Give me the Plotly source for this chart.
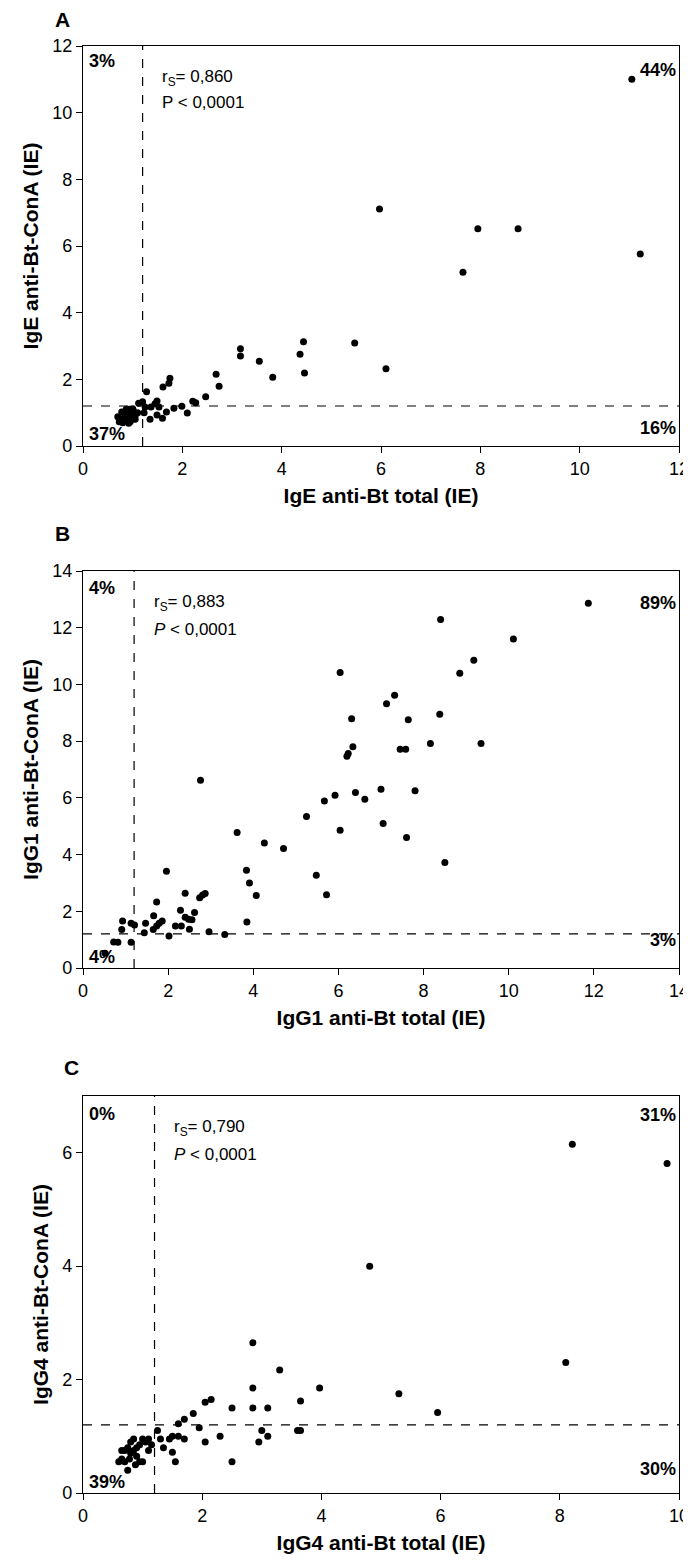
import plotly.graph_objects as go

# ---------------- Data ----------------
# Panel A: IgE
a_x = [11.05, 5.97, 7.95, 8.76, 11.22, 7.65, 6.10, 5.47,
       3.17, 3.17, 3.55, 3.82, 4.37, 4.44, 4.46, 2.68, 2.74, 2.47, 2.21, 2.27,
       1.99, 2.10, 1.83, 1.68, 1.60, 1.75, 1.73, 1.61, 1.49, 1.53, 1.49, 1.45,
       1.37, 1.28, 1.20, 1.25, 1.35, 1.23, 1.12,
       0.87, 0.94, 1.01, 0.84, 0.90, 0.97, 1.05, 0.77, 0.84, 0.90, 0.99, 0.73,
       0.80, 0.95, 1.05, 1.10, 0.88, 0.78, 1.00, 0.70, 0.92]
a_y = [11.00, 7.11, 6.52, 6.52, 5.76, 5.21, 2.32, 3.09,
       2.92, 2.70, 2.54, 2.06, 2.75, 3.13, 2.19, 2.15, 1.79, 1.48, 1.34, 1.30,
       1.19, 0.99, 1.13, 1.02, 0.83, 2.03, 1.88, 1.77, 0.93, 1.17, 1.35, 1.27,
       1.17, 1.63, 1.33, 1.17, 0.80, 1.00, 1.28,
       1.10, 1.10, 1.07, 0.95, 0.97, 0.93, 0.90, 0.80, 0.83, 0.77, 0.80, 0.73,
       0.70, 0.73, 0.80, 1.00, 0.90, 1.02, 1.12, 0.88, 0.68]

# Panel B: IgG1
b_x = [11.87, 8.40, 10.11, 9.18, 8.85, 6.04, 7.32, 7.13, 6.31, 7.64, 8.38,
       8.16, 9.35, 6.34, 6.23, 6.20, 7.45, 7.58,
       6.40, 5.92, 5.67, 5.25, 6.04, 4.71, 4.26, 3.62, 2.76, 3.84, 3.91, 5.48,
       1.96, 6.62, 7.00, 7.80, 7.05, 7.60, 8.50, 4.07, 5.72, 3.85,
       2.40, 2.74, 2.81, 2.87, 1.73, 2.29, 1.66, 2.62, 2.40, 2.48, 2.56,
       1.86, 1.79, 1.73, 1.65, 1.47, 1.44, 2.17, 2.31, 2.50, 2.96, 3.33, 2.02,
       0.93, 0.91, 1.13, 1.21, 0.82, 1.13, 0.52, 0.72]
b_y = [12.86, 12.29, 11.60, 10.85, 10.39, 10.42, 9.62, 9.32, 8.79, 8.75, 8.95,
       7.92, 7.92, 7.80, 7.56, 7.47, 7.71, 7.71,
       6.19, 6.09, 5.89, 5.34, 4.86, 4.21, 4.41, 4.78, 6.62, 3.45, 3.00, 3.27,
       3.41, 5.95, 6.30, 6.25, 5.10, 4.60, 3.72, 2.56, 2.58, 1.62,
       2.64, 2.48, 2.57, 2.63, 2.33, 2.04, 1.84, 1.96, 1.79, 1.72, 1.70,
       1.66, 1.58, 1.48, 1.36, 1.58, 1.24, 1.48, 1.48, 1.37, 1.28, 1.18, 1.13,
       1.66, 1.36, 1.58, 1.52, 0.91, 0.91, 0.52, 0.92]

# Panel C: IgG4
c_x = [8.21, 9.80, 4.81, 2.85, 8.10, 5.30, 5.95, 3.97, 3.65, 3.30, 2.85, 2.85,
       3.10, 2.50, 2.15, 2.05, 1.85, 1.70, 1.60,
       3.00, 2.95, 3.60, 3.65, 3.10, 2.50, 2.30, 2.05, 1.50, 1.50, 1.55, 1.70,
       1.45, 1.35, 1.30, 1.60, 1.25, 1.95,
       0.60, 0.65, 0.70, 0.75, 0.70, 0.75, 0.80, 0.80, 0.85, 0.90, 0.95, 0.95,
       1.00, 1.05, 1.10, 1.10, 0.85, 0.90, 1.00, 0.65, 0.78, 1.15, 0.88]
c_y = [6.15, 5.81, 4.00, 2.65, 2.30, 1.75, 1.42, 1.85, 1.62, 2.17, 1.85, 1.50,
       1.50, 1.50, 1.65, 1.60, 1.40, 1.30, 1.22,
       1.10, 0.90, 1.10, 1.10, 1.00, 0.55, 1.00, 0.90, 1.00, 0.72, 0.55, 0.95,
       0.95, 0.80, 0.95, 1.00, 1.10, 1.15,
       0.55, 0.60, 0.55, 0.40, 0.75, 0.80, 0.70, 0.90, 0.75, 0.80, 0.55, 0.85,
       0.95, 0.90, 0.75, 0.95, 0.95, 0.65, 0.55, 0.75, 0.60, 0.85, 0.50]

cutoff = 1.2

panels = [
    dict(x=a_x, y=a_y, xmax=12, ymax=12, dx=2, dy=2,
         xt="IgE anti-Bt total (IE)", yt="IgE anti-Bt-ConA (IE)",
         label="A", r="r<sub>S</sub>= 0,860", p="P < 0,0001",
         q=["3%", "44%", "37%", "16%"]),
    dict(x=b_x, y=b_y, xmax=14, ymax=14, dx=2, dy=2,
         xt="IgG1 anti-Bt total (IE)", yt="IgG1 anti-Bt-ConA (IE)",
         label="B", r="r<sub>S</sub>= 0,883", p="<i>P</i> < 0,0001",
         q=["4%", "89%", "4%", "3%"]),
    dict(x=c_x, y=c_y, xmax=10, ymax=7, dx=2, dy=2,
         xt="IgG4 anti-Bt total (IE)", yt="IgG4 anti-Bt-ConA (IE)",
         label="C", r="r<sub>S</sub>= 0,790", p="<i>P</i> < 0,0001",
         q=["0%", "31%", "39%", "30%"]),
]

# The page body has an 8px margin; figure coordinates = page coordinates - 8
OFF = 8
W, H = 691 - OFF, 1568 - 2 * OFF
PLOT_L, PLOT_R = 83, 679          # page px
tops = [46, 571, 1096]            # page px
bots = [446, 968, 1493]           # page px
L = PLOT_L - OFF
R = W - (PLOT_R - OFF)
T = tops[0] - OFF
B = H - (bots[2] - OFF)
span = H - T - B

def py(px):
    return (H - B - (px - OFF)) / span

def pxx(px):
    return (px - PLOT_L) / (PLOT_R - PLOT_L)

FONT = "Liberation Sans, Arial, Helvetica, sans-serif"
TICK_SIZE, TITLE_SIZE, PCT_SIZE, STAT_SIZE, LAB_SIZE = 18, 21, 18, 17, 21

fig = go.Figure()
annotations = []
shapes = []
label_x = [62, 62, 71]
label_y = [20, 533, 1067]
rs_y = [0.08, 0.08, 0.08]
p_y = [0.14, 0.147, 0.148]
rs_x = [0.13, 0.115, 0.15]
q_top = [[0.037, 0.06], [0.043, 0.08], [0.046, 0.048]]
q_bot = [[0.97, 0.955], [0.972, 0.93], [0.972, 0.94]]

for i, pn in enumerate(panels):
    n = "" if i == 0 else str(i + 1)
    xa, ya = "x" + n, "y" + n
    fig.add_trace(go.Scatter(x=pn["x"], y=pn["y"], mode="markers",
                             marker=dict(color="black", size=7),
                             xaxis=xa, yaxis=ya, showlegend=False,
                             hoverinfo="x+y"))
    common = dict(showgrid=False, zeroline=False,
                  showline=True, linecolor="black", linewidth=1.3, mirror=True,
                  ticks="outside", ticklen=6, tickwidth=1.3, tickcolor="black",
                  ticklabeloverflow="allow",
                  tickfont=dict(size=TICK_SIZE, family=FONT, color="black"))
    ax = dict(range=[0, pn["xmax"]], dtick=pn["dx"], tick0=0,
              domain=[0, 1], anchor=ya,
              title=dict(text="<b>" + pn["xt"] + "</b>",
                         font=dict(size=TITLE_SIZE, family=FONT, color="black"),
                         standoff=10), **common)
    ay = dict(range=[0, pn["ymax"]], dtick=pn["dy"], tick0=0,
              domain=[py(bots[i]), py(tops[i])], anchor=xa,
              title=dict(text="<b>" + pn["yt"] + "</b>",
                         font=dict(size=TITLE_SIZE, family=FONT, color="black"),
                         standoff=7), **common)
    fig.update_layout(**{"xaxis" + n: ax, "yaxis" + n: ay})
    shapes.append(dict(type="line", xref=xa, yref=ya + " domain",
                       x0=cutoff, x1=cutoff, y0=0, y1=1,
                       line=dict(color="black", width=1.2, dash="dash")))
    shapes.append(dict(type="line", xref=xa + " domain", yref=ya,
                       x0=0, x1=1, y0=cutoff, y1=cutoff,
                       line=dict(color="black", width=1.2, dash="dash")))
    annotations.append(dict(text="<b>" + pn["label"] + "</b>", xref="paper",
                            yref="paper", x=pxx(label_x[i]),
                            y=py(label_y[i]), showarrow=False,
                            xanchor="center", yanchor="middle",
                            font=dict(size=LAB_SIZE, family=FONT, color="black")))
    for txt, yy in [(pn["r"], rs_y[i]), (pn["p"], p_y[i])]:
        annotations.append(dict(text=txt, xref=xa + " domain",
                                yref=ya + " domain", x=rs_x[i], y=1 - yy,
                                showarrow=False, xanchor="left",
                                yanchor="middle",
                                font=dict(size=STAT_SIZE, family=FONT, color="black")))
    qfont = dict(size=PCT_SIZE, family=FONT, color="black")
    corners = [(0.006, 1 - q_top[i][0], "left"), (0.998, 1 - q_top[i][1], "right"),
               (0.006, 1 - q_bot[i][0], "left"), (0.998, 1 - q_bot[i][1], "right")]
    for txt, (qx, qy, anc) in zip(pn["q"], corners):
        annotations.append(dict(text="<b>" + txt + "</b>", xref=xa + " domain",
                                yref=ya + " domain", x=qx, y=qy,
                                showarrow=False, xanchor=anc, yanchor="middle",
                                font=qfont))

fig.update_layout(width=W, height=H,
                  margin=dict(l=L, r=R, t=T, b=B, autoexpand=False),
                  plot_bgcolor="white", paper_bgcolor="white",
                  annotations=annotations, shapes=shapes,
                  font=dict(family=FONT, color="black"))

fig.write_html("out.html")
